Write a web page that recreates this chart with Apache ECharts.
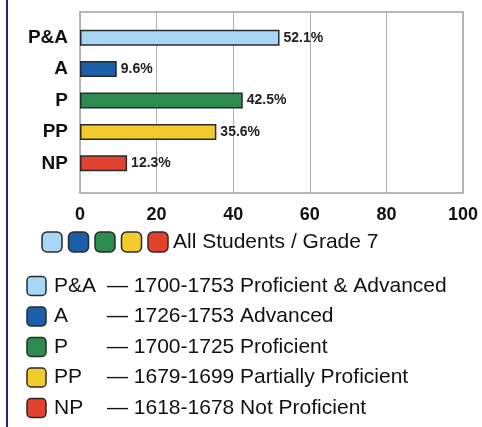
<!DOCTYPE html>
<html>
<head>
<meta charset="utf-8">
<script src="https://cdn.jsdelivr.net/npm/echarts@6/dist/echarts.min.js"></script>
<style>
  html, body { margin: 0; padding: 0; background: #fff; }
  #chart { width: 482px; height: 427px; }
</style>
</head>
<body>
<div id="chart"></div>
<script>
// data
var categories = ['P&A', 'A', 'P', 'PP', 'NP']
var percents = [52.1, 9.6, 42.5, 35.6, 12.3]
var ranges = ['1700-1753', '1726-1753', '1700-1725', '1679-1699', '1618-1678']
var levelNames = ['Proficient & Advanced', 'Advanced', 'Proficient', 'Partially Proficient', 'Not Proficient']
var groupTitle = 'All Students / Grade 7'
var axisMin = 0
var axisMax = 100
var axisStep = 20

// colours per level
var colors = ['#a9d6f5', '#1a5fa8', '#2e8b4f', '#f3cb2c', '#e2422e']
var edge = '#2a2a2a'
var font = 'Liberation Sans, Arial, sans-serif'

var chart = echarts.init(document.getElementById('chart'))

// legend graphics
var graphics = [
  // page border on the left
  { type: 'line', shape: { x1: 7, y1: 0, x2: 7, y2: 427 }, style: { stroke: '#1f2b6b', lineWidth: 2 } }
]
colors.forEach(function(c, i) {
  graphics.push({
    type: 'rect',
    shape: { x: 42 + i * 26.5, y: 232, width: 20, height: 20, r: 5 },
    style: { fill: c, stroke: edge, lineWidth: 1.5 }
  })
})
graphics.push({
  type: 'text',
  style: { x: 173, y: 242, text: groupTitle, font: '21px ' + font, fill: '#111', verticalAlign: 'middle' }
})
categories.forEach(function(name, i) {
  var y = 286 + i * 30.5
  graphics.push({
    type: 'rect',
    shape: { x: 27, y: y - 9.5, width: 19, height: 19, r: 4 },
    style: { fill: colors[i], stroke: edge, lineWidth: 1.5 }
  })
  graphics.push({
    type: 'text',
    style: { x: 54, y: y, text: name, font: '21px ' + font, fill: '#111', verticalAlign: 'middle' }
  })
  graphics.push({
    type: 'text',
    style: { x: 107, y: y, text: '\u2014 ' + ranges[i] + ' ' + levelNames[i], font: '21px ' + font, fill: '#111', verticalAlign: 'middle' }
  })
})

var option = {
  animation: false,
  backgroundColor: '#fff',
  grid: [
    // frame + gridlines
    { left: 80, right: 19, top: 12, bottom: 234, show: true, borderColor: '#a0a0a0', borderWidth: 1.5 },
    // bars
    { left: 80, right: 19, top: 22, bottom: 248 }
  ],
  xAxis: [{
    gridIndex: 0,
    type: 'value',
    min: axisMin,
    max: axisMax,
    interval: axisStep,
    axisLine: { show: false },
    axisTick: { show: false },
    splitLine: { lineStyle: { color: '#b0b0b0', width: 1 } },
    axisLabel: { margin: 13, fontFamily: font, fontSize: 18, fontWeight: 'bold', color: '#111' }
  }, {
    gridIndex: 1,
    type: 'value',
    min: axisMin,
    max: axisMax,
    show: false
  }],
  yAxis: [{
    gridIndex: 0,
    type: 'category',
    show: false
  }, {
    gridIndex: 1,
    type: 'category',
    inverse: true,
    data: categories,
    axisLine: { show: false },
    axisTick: { show: false },
    axisLabel: { margin: 12, fontFamily: font, fontSize: 19, fontWeight: 'bold', color: '#111' }
  }],
  series: [{
    type: 'bar',
    xAxisIndex: 1,
    yAxisIndex: 1,
    barWidth: 16,
    data: percents.map(function(v, i) {
      return { value: v, itemStyle: { color: colors[i] } }
    }),
    itemStyle: { borderColor: edge, borderWidth: 1.5 },
    label: {
      show: true,
      position: 'right',
      distance: 4,
      formatter: '{c}%',
      fontFamily: font,
      fontSize: 14,
      fontWeight: 'bold',
      color: '#222'
    }
  }],
  graphic: graphics
}
chart.setOption(option)
</script>
</body>
</html>
